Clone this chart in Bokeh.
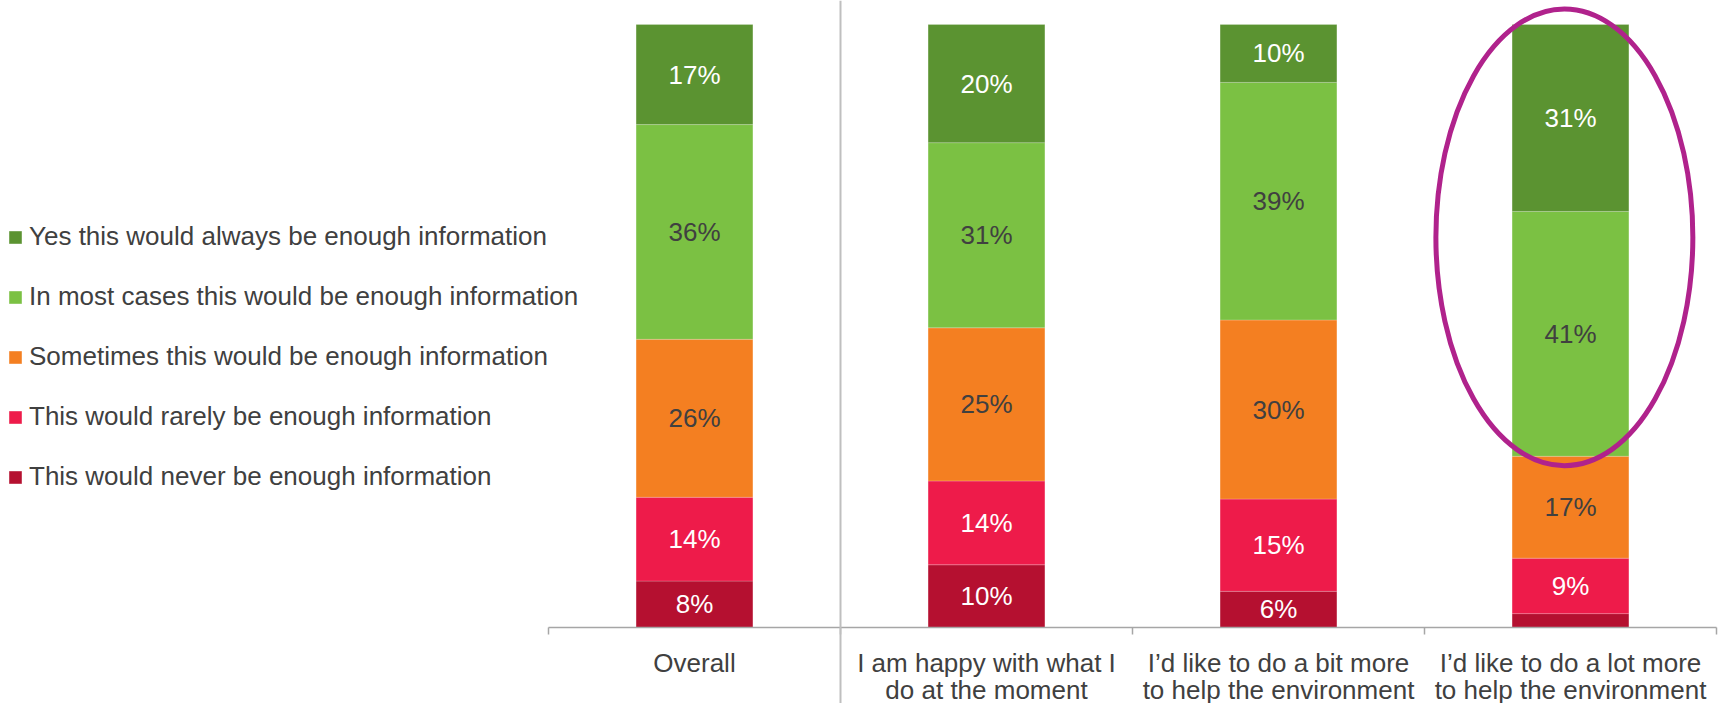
from bokeh.plotting import figure
from bokeh.models import (Range1d, FixedTicker, Legend, LegendItem, Span,
                          ColumnDataSource)
from bokeh.embed import file_html
from bokeh.resources import INLINE
from bokeh.core.properties import value

# ---------------- data ----------------
categories = [
    "Overall",
    "I am happy with what I\ndo at the moment",
    "I\u2019d like to do a bit more\nto help the environment",
    "I\u2019d like to do a lot more\nto help the environment",
]
series = [
    "This would never be enough information",
    "This would rarely be enough information",
    "Sometimes this would be enough information",
    "In most cases this would be enough information",
    "Yes this would always be enough information",
]
never = [7.7, 10.4, 6.0, 2.3]
rarely = [13.9, 13.9, 15.3, 9.2]
sometimes = [26.2, 25.4, 29.7, 16.9]
most = [35.6, 30.7, 39.4, 40.6]
always = [16.6, 19.6, 9.6, 31.0]

colors = ["#b51030", "#ee1b4a", "#f47f21", "#7bc143", "#5b9331"]
label_colors = ["#ffffff", "#ffffff", "#404040", "#404040", "#ffffff"]
FONT = "Liberation Sans"
TEXT = "#404040"

# ---------------- figure ----------------
W, H = 1725, 703
x_pos = [i + 0.5 for i in range(len(categories))]
keys = ["never", "rarely", "sometimes", "most", "always"]
vals = [never, rarely, sometimes, most, always]
src = ColumnDataSource(dict(x=x_pos, **{k: v for k, v in zip(keys, vals)}))

# frame covers the whole canvas; axis pinned at y = 0
px_x = 292.0           # pixels per category
px_y = 6.03            # pixels per percentage point
left0, base0 = 548, 627
p = figure(width=W, height=H, output_backend="svg", toolbar_location=None,
           x_range=Range1d(-left0 / px_x, 4 + (W - left0 - 4 * px_x) / px_x),
           y_range=Range1d(-(H - base0) / px_y, base0 / px_y),
           min_border_left=0, min_border_right=0, min_border_top=0,
           min_border_bottom=0)
p.outline_line_color = None
p.xgrid.visible = False
p.ygrid.visible = False
p.yaxis.visible = False
p.background_fill_color = "white"
p.border_fill_color = "white"

# separator between "Overall" and the groups
p.add_layout(Span(location=1, dimension="height", line_color="#bfbfbf", line_width=2))

rends = p.vbar_stack(keys, x="x", width=0.4, color=colors, source=src,
                     line_color="white", line_alpha=0.25, line_width=0.8)

# segment labels
lx, ly, lt, lc = [], [], [], []
for i, xc in enumerate(x_pos):
    base = 0.0
    for s, v in enumerate(vals):
        val = v[i]
        if val >= 4:
            lx.append(xc)
            ly.append(base + val / 2)
            lt.append(f"{val:.0f}%")
            lc.append(label_colors[s])
        base += val
p.text(x=lx, y=ly, text=lt, text_color=lc, text_align="center",
       text_baseline="middle", text_font=value(FONT), text_font_size="26px")

# highlight ellipse
p.ellipse(x=[3.479], y=[64.7], width=0.88, height=75.8, fill_color=None,
          line_color="#b0228c", line_width=5)

# x axis (line + boundary ticks)
ax = p.xaxis[0]
ax.fixed_location = 0
ax.bounds = (0, 4)
ax.ticker = FixedTicker(ticks=[], minor_ticks=[0, 1, 2, 3, 4])
ax.major_tick_out = 0
ax.major_tick_in = 0
ax.minor_tick_out = 7
ax.minor_tick_in = 0
ax.minor_tick_line_color = "#a6a6a6"
ax.minor_tick_line_width = 1.5
ax.axis_line_color = "#a6a6a6"
ax.axis_line_width = 1.5
ax.major_label_text_alpha = 0

# category labels under the axis (one text per line)
line1 = [c.split("\n")[0] for c in categories]
line2 = [c.split("\n")[1] if "\n" in c else "" for c in categories]
for txt, yy in ((line1, -(662 - base0) / px_y), (line2, -(689 - base0) / px_y)):
    p.text(x=x_pos, y=[yy] * len(x_pos), text=txt, text_align="center",
           text_baseline="middle", text_font=value(FONT), text_font_size="26px",
           text_color=TEXT)

# legend (top item first)
items = [LegendItem(label=series[i], renderers=[rends[i]]) for i in reversed(range(5))]
legend = Legend(items=items, location=(7, 211), glyph_width=16, glyph_height=16,
                label_standoff=6, spacing=29, label_height=30, padding=0, margin=0,
                border_line_color=None, background_fill_alpha=0,
                label_text_font=FONT, label_text_font_size="26px",
                label_text_color=TEXT)
p.add_layout(legend)

open("out.html", "w").write(file_html(p, INLINE))
